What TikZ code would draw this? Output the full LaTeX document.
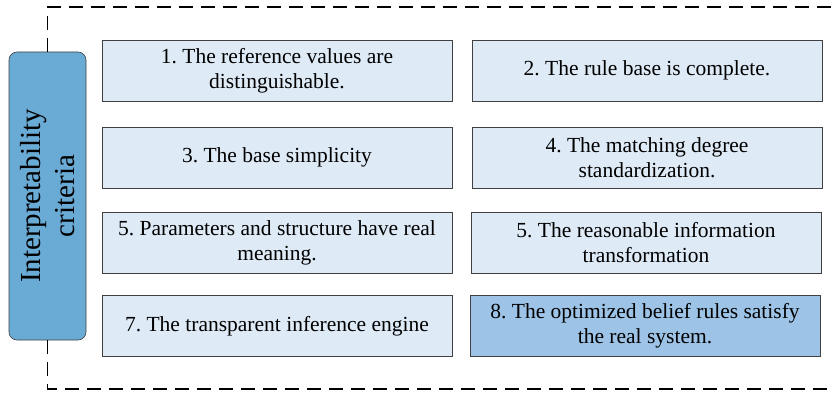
\documentclass[tikz,border=0pt]{standalone}
\usepackage{fontspec}
\setmainfont{Liberation Serif}
\newfontfamily\critfont{Liberation Serif}
\definecolor{lightbox}{HTML}{DEEAF6}
\definecolor{darkbox}{HTML}{9DC3E6}
\definecolor{critblue}{HTML}{6AABD6}
\definecolor{edge}{HTML}{404040}
\frenchspacing
\begin{document}
\begin{tikzpicture}
      [x=1pt,y=-1pt,%%%%%%%%%%%%%%%%%%%%%%%%%%%%%%
      crit/.style={rectangle,draw=edge,fill=lightbox,semithick,
        minimum width=350pt,minimum height=61pt,align=center,
        font=\critfont\fontsize{21.5}{25}\selectfont,inner sep=0pt},
      mainbox/.style={rectangle,rounded corners=8pt,draw=edge,fill=critblue,semithick,
        minimum width=288pt,minimum height=77pt,align=center,rotate=90,
        font=\critfont\fontsize{29}{34}\selectfont,inner sep=0pt},
      frame/.style={draw=black,line width=1.4pt,dash pattern=on 14pt off 8pt},
      ]%%%%%%%%%%%%%%%%%%%%%%%%%%%%%%
      \useasboundingbox (0,0) rectangle (834,393);

      \node[mainbox] (main) at (47.5,196) {Interpretability\\criteria};

      \coordinate (topend) at (834,7);
      \coordinate (botend) at (834,389);
      \draw[frame] (main.east) |- (topend);
      \draw[frame] (main.west) |- (botend);

      \node[crit] (c1) at (277,70.5) {1. The reference values are\\distinguishable.};
      \node[crit] (c2) at (647,70.5) {2. The rule base is complete.};
      \node[crit] (c3) at (277,157.5) {3. The base simplicity};
      \node[crit] (c4) at (647,157.5) {4. The matching degree\\standardization.};
      \node[crit] (c5) at (277,242.5) {5. Parameters and structure have real\\meaning.};
      \node[crit] (c6) at (646,242.5) {5. The reasonable information\\transformation};
      \node[crit] (c7) at (277,326) {7. The transparent inference engine};
      \node[crit,fill=darkbox] (c8) at (645,325.5) {8. The optimized belief rules satisfy\\the real system.};
    \end{tikzpicture}
\end{document}
